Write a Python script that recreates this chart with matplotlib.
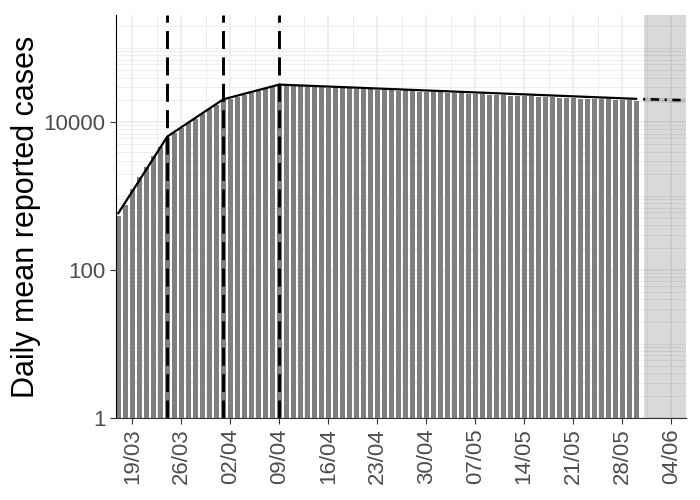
import numpy as np
import pandas as pd
import matplotlib
matplotlib.use("Agg")
import matplotlib.pyplot as plt
import matplotlib.dates as mdates
from matplotlib.ticker import FixedLocator, NullFormatter

plt.rcParams["font.family"] = ["Liberation Sans", "DejaVu Sans"]
plt.rcParams["lines.scale_dashes"] = False

# daily mean reported cases, 17/03 .. 30/05
first_day = "2020-03-17"
cases = [
    545, 760, 1250, 1800, 2460, 3500, 4600, 6000,
    7100, 8200, 9700, 11000, 12700, 14800, 17000, 19600,
    20800, 22000, 23500, 24800, 26300, 28000, 29700, 31500,
    31000, 30600, 30500, 30100, 29800, 29600, 29300, 28900, 28700, 28500,
    28100, 27800, 27600, 27300, 27000, 26800, 26500, 27600, 26000, 25800,
    25500, 25300, 26800, 25000, 24700, 24400, 24100, 23900, 23700, 23500,
    23200, 23000, 22800, 22600, 22400, 22200, 22000, 21800, 21600, 21400,
    21200, 21000, 20800, 20600, 20500, 20300, 20200, 20000, 19800, 19700,
    19500,
]

# fitted piecewise trend (knots) and projection
fit_dates = ["2020-03-17", "2020-03-24", "2020-04-01", "2020-04-09", "2020-05-30"]
fit_values = [586, 6370, 20300, 32100, 20600]
proj_dates = ["2020-05-31", "2020-06-06"]
proj_values = [20400, 19700]
proj_low = [18900, 18200]
proj_high = [22000, 21300]

breakpoints = ["2020-03-24", "2020-04-01", "2020-04-09"]
tick_dates = pd.date_range("2020-03-19", "2020-06-04", freq="7D")

days = pd.date_range(first_day, periods=len(cases), freq="D")

fig = plt.figure(figsize=(7, 5), dpi=100)
ax = fig.add_axes([116 / 700, 82 / 500, 570 / 700, 403 / 500])

ax.set_yscale("log")
ax.set_ylim(1, 2.8e5)
ax.set_xlim(pd.Timestamp("2020-03-16 16:00"), pd.Timestamp("2020-06-06 03:00"))

# grid
ax.yaxis.set_major_locator(FixedLocator([1, 100, 10000]))
minor_y = [m * 10 ** k for k in range(0, 6) for m in range(1, 10)]
ax.yaxis.set_minor_locator(FixedLocator(minor_y))
ax.yaxis.set_minor_formatter(NullFormatter())
ax.xaxis.set_major_locator(FixedLocator(mdates.date2num(tick_dates)))
ax.xaxis.set_minor_locator(FixedLocator(mdates.date2num(tick_dates - pd.Timedelta("84h"))))
ax.xaxis.set_major_formatter(mdates.DateFormatter("%d/%m"))
ax.grid(which="major", color="#EBEBEB", lw=1.1, zorder=0)
ax.grid(which="minor", color="#EBEBEB", lw=0.6, zorder=0)
ax.set_axisbelow(True)

ax.bar(days, cases, width=0.72, color="#7F7F7F", zorder=2)

# projection window
ax.axvspan(pd.Timestamp("2020-05-31 02:00"), pd.Timestamp("2020-06-07"),
           color="black", alpha=0.15, lw=0, zorder=3)

ax.plot(pd.to_datetime(fit_dates), fit_values, color="black", lw=1.6, zorder=4)
ax.fill_between(pd.to_datetime(proj_dates), proj_low, proj_high,
                color="grey", alpha=0.25, lw=0, zorder=4)
ax.plot(pd.to_datetime(proj_dates), proj_values, color="black", lw=1.9,
        dashes=(1.5, 4, 6, 4), zorder=5)

for d in breakpoints:
    ax.axvline(pd.Timestamp(d), color="black", lw=2.1, dashes=(13, 6), zorder=5)

for s in ["top", "right"]:
    ax.spines[s].set_visible(False)
ax.spines["left"].set_color("black")
ax.spines["bottom"].set_color("#333333")
ax.spines["left"].set_zorder(6)
ax.spines["bottom"].set_zorder(6)

ax.tick_params(axis="both", which="major", labelsize=16, labelcolor="#4D4D4D",
               color="#333333", length=4)
ax.tick_params(axis="both", which="minor", length=0)
ax.tick_params(axis="x", labelrotation=90)
ax.set_yticklabels(["1", "100", "10000"])
ax.set_ylabel("Daily mean reported cases", fontsize=22, labelpad=2)

fig.savefig("out.png", dpi=100)
